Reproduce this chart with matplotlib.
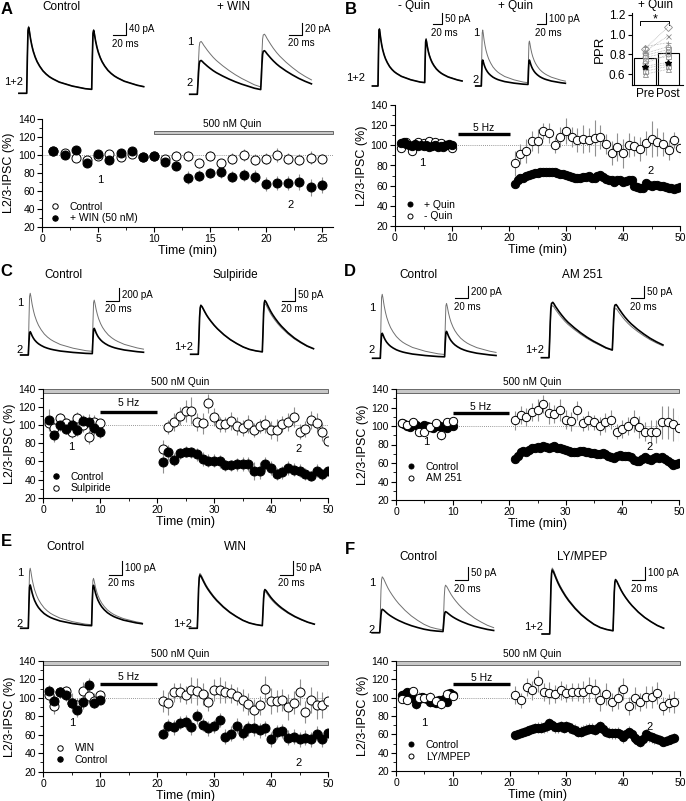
import numpy as np
import matplotlib
matplotlib.use("Agg")
import matplotlib.pyplot as plt
from matplotlib.patches import Rectangle

plt.rcParams["font.family"] = ["Liberation Sans", "DejaVu Sans"]
plt.rcParams["font.size"] = 7.5

W, H = 686, 801

# ---------------- IPSC kinetics (normalised) ----------------
shape_t = [0, 1, 2, 3, 4, 6, 8, 10, 13, 16, 20, 25, 30, 35, 40, 50, 60, 70, 80, 90, 100, 120, 140, 160, 180]
fast = [0, .55, .95, 1.0, .95, .82, .72, .64, .55, .48, .41, .34, .29, .25, .22, .17, .14, .11, .09, .07, .06, .045, .035, .027, .02]
medium = [0, .35, .75, .95, 1.0, .97, .92, .87, .80, .74, .67, .59, .52, .46, .40, .30, .22, .15, .10, .07, .05, .03, .02, .015, .01]
slow = [0, .3, .65, .9, .98, 1.0, .97, .93, .88, .83, .77, .70, .64, .59, .54, .45, .37, .30, .24, .18, .14, .09, .06, .04, .03]

# peak amplitudes (pA) of pulse 1 / pulse 2, for trace 1 and trace 2
a_ctrl_amp = [[218, 195], [214, 192]]
a_win_amp = [[86, 87], [55, 64]]
b_noq_amp = [[262, 201], [258, 195]]
b_quin_amp = [[509, 379], [236, 222]]
c_ctrl_amp = [[972, 808], [367, 398]]
c_sulp_amp = [[191, 191], [193, 203]]
d_ctrl_amp = [[1008, 806], [394, 401]]
d_am_amp = [[205, 168], [218, 182]]
e_ctrl_amp = [[420, 325], [303, 283]]
e_win_amp = [[192, 120], [186, 127]]
f_ctrl_amp = [[210, 169], [88, 75]]
f_ly_amp = [[496, 387], [481, 387]]

# ---------------- time courses ----------------
a_t = np.arange(1, 26)
a_ctrl = [104, 102, 97, 95, 99, 101, 98, 101, 98, 99, 96, 99, 99, 91, 99, 91, 96, 100, 95, 96, 100, 96, 95, 97, 96]
a_ctrl_err = [3, 3, 4, 4, 3, 4, 3, 3, 3, 3, 4, 5, 6, 5, 6, 5, 6, 7, 6, 6, 8, 6, 6, 7, 5]
a_win = [105, 100, 106, 91, 101, 94, 102, 105, 98, 99, 92, 88, 75, 77, 80, 81, 76, 78, 76, 68, 69, 69, 70, 64, 67]
a_win_err = [3, 3, 4, 4, 3, 4, 3, 3, 3, 3, 4, 5, 7, 6, 6, 7, 6, 7, 7, 8, 8, 8, 9, 9, 9]

t_open = np.concatenate([np.arange(1, 11), np.arange(21, 51)])
t_dense = np.concatenate([np.arange(1, 10.01, 0.5), np.arange(21, 50.01, 0.5)])

b_noquin = [97, 103, 94, 103, 102, 104, 103, 102, 100, 97,
            82, 91, 94, 104, 104, 114, 112, 100, 108, 114, 108, 105, 106, 105, 107,
            108, 101, 92, 98, 92, 100, 99, 96, 102, 106, 103, 101, 95, 105, 97]
b_noquin_err = [3, 3, 4, 3, 3, 3, 3, 3, 3, 3,
                12, 10, 12, 10, 12, 8, 10, 8, 10, 13, 10, 12, 14, 12, 18,
                12, 10, 12, 14, 14, 12, 10, 12, 12, 18, 14, 12, 10, 8, 10]
b_quin = [102, 103, 101, 100, 99, 101, 99, 100, 99, 100, 98, 99, 100, 98, 99, 98, 100, 101, 100,
          62, 66, 68, 68, 70, 71, 72, 73, 73, 74, 74, 74, 74, 74, 74, 73, 72, 72, 71, 70,
          69, 68, 68, 68, 69, 69, 70, 68, 68, 70, 71, 69, 67, 66, 66, 64, 66, 66, 64, 65,
          66, 66, 60, 59, 58, 58, 63, 61, 60, 61, 61, 60, 60, 59, 58, 58, 57, 58, 59]
b_quin_err = [2, 2, 3, 2, 2, 2, 3, 2, 2, 2, 3, 2, 2, 2, 3, 2, 2, 2, 3,
              4, 3, 3, 3, 3, 3, 3, 3, 3, 3, 3, 3, 3, 3, 3, 3, 3, 3, 3, 3,
              3, 3, 3, 3, 3, 3, 3, 3, 3, 3, 4, 4, 3, 3, 3, 3, 3, 3, 3, 3,
              4, 4, 3, 3, 4, 3, 3, 3, 3, 3, 3, 3, 3, 3, 3, 3, 3, 3, 3]

c_ctrl = [106, 89, 100, 96, 100, 95, 105, 104, 97, 93,
          59, 70, 62, 69, 71, 70, 68, 63, 61, 61, 60, 56, 56, 57, 57,
          57, 49, 50, 57, 53, 46, 48, 53, 51, 50, 46, 44, 50, 46, 49]
c_ctrl_err = [12, 8, 6, 6, 6, 7, 6, 8, 8, 7,
              12, 8, 7, 6, 6, 6, 7, 8, 7, 7, 7, 6, 6, 7, 8,
              8, 10, 9, 8, 8, 7, 7, 8, 7, 7, 7, 6, 7, 6, 6]
c_sulp = [103, 97, 108, 102, 92, 108, 100, 87, 104, 102,
          74, 98, 104, 110, 116, 116, 104, 102, 124, 109, 101, 101, 105, 99, 97,
          101, 95, 99, 101, 95, 95, 101, 104, 109, 93, 96, 106, 103, 93, 83]
c_sulp_err = [6, 6, 5, 6, 6, 7, 7, 8, 7, 5,
              10, 8, 10, 10, 12, 15, 10, 12, 10, 10, 8, 8, 10, 10, 9,
              10, 8, 8, 10, 10, 12, 9, 10, 11, 8, 9, 10, 11, 10, 8]

d_am = [103, 101, 104, 94, 93, 99, 103, 90, 104, 105,
        106, 112, 110, 115, 117, 124, 114, 113, 117, 107, 105, 117, 103, 106, 104,
        100, 104, 107, 94, 97, 100, 105, 99, 94, 94, 94, 104, 104, 102, 98]
d_am_err = [3, 3, 3, 4, 4, 4, 4, 5, 4, 4,
            10, 10, 10, 10, 12, 10, 12, 10, 12, 10, 10, 10, 8, 10, 8,
            10, 10, 10, 8, 10, 10, 12, 12, 10, 12, 12, 18, 18, 18, 14]
d_ctrl = [103, 102, 100, 99, 103, 101, 99, 98, 101, 100, 99, 98, 100, 101, 99, 100, 98, 101, 100,
          64, 68, 72, 73, 72, 74, 76, 76, 77, 76, 78, 77, 76, 77, 78, 76, 76, 75, 74, 73,
          72, 72, 72, 73, 73, 72, 72, 71, 71, 70, 70, 71, 70, 68, 67, 65, 68, 69, 68, 68,
          68, 67, 63, 62, 62, 64, 66, 64, 63, 65, 66, 65, 66, 64, 62, 60, 58, 59, 60]
d_ctrl_err = [3, 3, 3, 2, 3, 3, 2, 3, 3, 2, 3, 3, 2, 3, 3, 2, 3, 3, 3,
              4, 4, 4, 3, 3, 3, 3, 3, 3, 3, 3, 3, 3, 3, 3, 3, 3, 3, 3, 3,
              3, 3, 3, 3, 3, 3, 3, 3, 3, 3, 3, 3, 3, 3, 3, 3, 3, 3, 3, 3,
              4, 4, 4, 4, 4, 4, 4, 4, 4, 4, 4, 4, 4, 4, 4, 4, 4, 4, 4]

e_win = [103, 91, 106, 107, 95, 92, 107, 102, 97, 103,
         97, 94, 106, 106, 103, 109, 107, 104, 96, 109, 109, 106, 105, 102, 98,
         93, 87, 92, 110, 97, 97, 98, 90, 95, 106, 85, 98, 92, 92, 97]
e_win_err = [8, 8, 6, 6, 10, 8, 10, 8, 8, 6,
             12, 12, 10, 10, 10, 14, 15, 12, 10, 12, 14, 12, 10, 10, 12,
             12, 12, 10, 14, 14, 12, 12, 14, 12, 14, 12, 14, 15, 14, 12]
e_ctrl = [108, 97, 106, 103, 94, 87, 96, 114, 95, 98,
          61, 70, 68, 73, 74, 68, 80, 71, 67, 69, 76, 58, 61, 70, 62,
          67, 67, 65, 67, 55, 63, 64, 57, 58, 55, 57, 55, 61, 55, 62]
e_ctrl_err = [6, 6, 5, 6, 8, 8, 8, 8, 6, 5,
              6, 7, 8, 7, 8, 8, 8, 7, 8, 7, 8, 8, 8, 8, 8,
              8, 8, 8, 8, 8, 8, 8, 8, 8, 8, 8, 8, 8, 8, 8]

f_t_open = np.concatenate([np.arange(1, 11), np.arange(21, 50)])
f_t_dense = np.concatenate([np.arange(1, 10.01, 0.5), np.arange(21, 49.01, 0.5)])
f_ly = [99, 98, 107, 100, 100, 101, 96, 93, 104, 102,
        103, 97, 112, 108, 118, 106, 105, 104, 108, 105, 106, 106, 106, 109, 108,
        97, 104, 95, 100, 109, 91, 100, 95, 101, 101, 105, 91, 94, 95]
f_ly_err = [5, 5, 5, 6, 5, 5, 6, 5, 5, 5,
            10, 8, 10, 10, 12, 10, 12, 10, 10, 10, 10, 10, 12, 14, 12,
            12, 12, 10, 12, 12, 10, 12, 10, 12, 12, 12, 10, 10, 12]
f_ctrl = [103, 104, 106, 105, 100, 93, 99, 101, 100, 99, 95, 95, 94, 97, 96, 99, 95, 105, 103,
          59, 60, 62, 63, 64, 65, 66, 67, 67, 67, 68, 69, 72, 70, 68, 68, 69, 67, 69, 68,
          66, 65, 63, 63, 64, 65, 66, 66, 65, 67, 69, 66, 63, 62, 61, 61, 62, 60, 57, 60,
          63, 60, 56, 54, 52, 55, 60, 58, 57, 56, 55, 54, 52, 53, 54, 55, 56]
f_ctrl_err = [4, 4, 5, 4, 4, 5, 4, 4, 4, 4, 5, 4, 4, 4, 4, 5, 4, 4, 4,
              5, 5, 5, 5, 5, 5, 5, 5, 6, 6, 6, 6, 6, 6, 6, 6, 6, 6, 6, 6,
              6, 6, 6, 6, 6, 6, 6, 6, 6, 6, 6, 6, 6, 6, 6, 6, 6, 6, 6, 6,
              6, 6, 6, 6, 6, 6, 6, 6, 6, 6, 5, 5, 5, 5, 5, 5, 5]

# paired-pulse ratio (B inset)
ppr_groups = ["Pre", "Post"]
ppr_mean = [0.76, 0.81]
ppr_pre = [0.88, 0.86, 0.83, 0.81, 0.79, 0.77, 0.74, 0.71, 0.68, 0.66, 0.63, 0.60]
ppr_post = [0.92, 1.08, 0.99, 0.88, 0.85, 0.82, 0.78, 0.80, 0.72, 0.70, 0.68, 0.65]
ppr_marks = ["+", "D", "x", "o", "s", "o", "s", "o", "^", "o", "s", "^"]
ppr_black = [0.67, 0.71]

fig = plt.figure(figsize=(W / 100, H / 100), dpi=100)


def px_axes(left, top, right, bottom):
    return fig.add_axes([left / W, 1 - bottom / H, (right - left) / W, (bottom - top) / H])


def ftext(x, y, s, **kw):
    kw.setdefault("ha", "center")
    kw.setdefault("va", "center")
    fig.text(x / W, 1 - y / H, s, **kw)


def ipsc(a1, a2, kin):
    tt = np.array(shape_t, float)
    t = np.concatenate([[-12], tt[tt < 100], 100 + tt[tt <= 80]])
    y = a1 * np.interp(t, tt, kin, left=0) + a2 * np.interp(t - 100, tt, kin, left=0)
    return t, y


def trace_panel(x0, y0, ms_px, pa_px, amps, kins, bar, bar_pa):
    ax = px_axes(x0 - 22, y0 - 80, x0 + 125, y0 + 8)
    ax.set_xlim(-22 / ms_px, 125 / ms_px)
    ax.set_ylim(-8 / pa_px, 80 / pa_px)
    ax.axis("off")
    styles = [dict(color="#707070", lw=0.7), dict(color="black", lw=1.2)]
    for (a1, a2), k, st in zip(amps, kins, styles):
        t, y = ipsc(a1, a2, k)
        ax.plot(t, y, clip_on=False, **st)
    bx = (bar[0] - x0) / ms_px
    by = (y0 - bar[1]) / pa_px
    ax.plot([bx - 20, bx, bx], [by, by, by + bar_pa], color="black", lw=0.8, clip_on=False)
    ax.text(bx + 3 / ms_px, by + bar_pa / 2, f"{bar_pa} pA", ha="left", va="center", fontsize=7)
    ax.text(bx - 20 - 1.5 / ms_px, by - 8.5 / pa_px, "20 ms", ha="left", va="center", fontsize=7)


def course_axes(box, xmax, xstep):
    left, top, right, bottom = box
    ax = px_axes(left, top, right, bottom)
    ax.set_xlim(0, xmax)
    ax.set_ylim(20, 140)
    ax.spines[["top", "right"]].set_visible(False)
    ax.spines[["left", "bottom"]].set_linewidth(0.8)
    ax.set_xticks(np.arange(0, xmax + 0.1, xstep))
    ax.set_xticks(np.arange(xstep / 2, xmax, xstep), minor=True)
    ax.set_yticks(np.arange(20, 141, 20))
    ax.set_yticks(np.arange(30, 140, 20), minor=True)
    ax.tick_params(direction="out", length=3.5, width=0.8, labelsize=7.5, pad=1.5)
    ax.tick_params(which="minor", length=2, width=0.6)
    ax.axhline(100, color="#777777", ls=(0, (1, 1.5)), lw=0.6, zorder=0)
    ax.set_xlabel("Time (min)", fontsize=9, labelpad=1)
    ax.set_ylabel("L2/3-IPSC (%)", fontsize=9, labelpad=2)
    return ax


def series(ax, t, v, e, filled, ms, z):
    ax.errorbar(t, v, yerr=e, fmt="none", ecolor="#909090", elinewidth=0.8, capsize=0, zorder=1)
    h, = ax.plot(t, v, "o", ls="none", ms=ms, mfc="black" if filled else "white",
                 mec="black", mew=0.7, zorder=z)
    return h


def legend(ax, box, handles, labels, mx, rows):
    left, top, right, bottom = box
    ax.legend(handles, labels, loc="center left",
              bbox_to_anchor=((mx - 5.2 - left) / (right - left),
                              1 - ((rows[0] + rows[1]) / 2 - top) / (bottom - top)),
              frameon=False, borderpad=0, borderaxespad=0, handlelength=1.0,
              handletextpad=0.9, labelspacing=0.15, markerscale=0.6, fontsize=7.5)


def quin_bar(ax, span, y0, y1):
    ax.add_patch(Rectangle((span[0], y0), span[1] - span[0], y1 - y0, fc="#c8c8c8",
                           ec="#555555", lw=0.6, clip_on=False, zorder=2))
    ax.text((span[0] + span[1]) / 2 - 1, y1 + 1.5, "500 nM Quin", ha="center", va="bottom",
            fontsize=7.3, clip_on=False)


def stim_bar(ax, span, y, ty):
    ax.plot(span, [y, y], color="black", lw=2.4, solid_capstyle="butt", clip_on=False)
    ax.text((span[0] + span[1]) / 2, ty, "5 Hz", ha="center", va="center", fontsize=7.5)


# ---------------- panel letters & titles ----------------
for letter, (x, y) in {"A": (7, 9), "B": (351, 10), "C": (6, 271), "D": (350, 271),
                       "E": (6, 541), "F": (350, 549)}.items():
    ftext(x, y, letter, fontsize=12, fontweight="bold")

for s, x, y in [("Control", 61, 7), ("+ WIN", 234, 7), ("- Quin", 414, 6), ("+ Quin", 516, 6),
                ("+ Quin", 655, 5), ("Control", 63, 275), ("Sulpiride", 235, 275),
                ("Control", 418, 275), ("AM 251", 582, 275), ("Control", 65, 547),
                ("WIN", 235, 547), ("Control", 418, 557), ("LY/MPEP", 582, 557)]:
    ftext(x, y, s, fontsize=8.5)

# ---------------- traces ----------------
trace_panel(26.7, 93.3, 0.65, 12.3 / 40, a_ctrl_amp, [fast, fast], (126, 35), 40)
trace_panel(197.3, 94.3, 0.634, 12.3 / 20, a_win_amp, [slow, slow], (301.7, 35), 20)
trace_panel(378, 86, 0.467, 11 / 50, b_noq_amp, [fast, fast], (442.3, 24.3), 50)
trace_panel(481.3, 86, 0.467, 11 / 100, b_quin_amp, [fast, fast], (546.3, 24.3), 100)
trace_panel(28.3, 355, 0.64, 12.7 / 200, c_ctrl_amp, [fast, fast], (119, 301), 200)
trace_panel(198.3, 354.3, 0.64, 12.7 / 50, c_sulp_amp, [medium, medium], (295, 301), 50)
trace_panel(380.3, 358.3, 0.643, 12.7 / 200, d_ctrl_amp, [fast, fast], (468, 298.3), 200)
trace_panel(549, 357.7, 0.633, 12.7 / 50, d_am_amp, [slow, slow], (644, 298.3), 50)
trace_panel(28.3, 628.3, 0.633, 14.3 / 100, e_ctrl_amp, [fast, fast], (121.7, 575), 100)
trace_panel(197.3, 628.3, 0.65, 14.3 / 50, e_win_amp, [medium, medium], (292.7, 575), 50)
trace_panel(379.7, 632.7, 0.633, 13.3 / 50, f_ctrl_amp, [medium, medium], (468, 580), 50)
trace_panel(549.7, 634, 0.633, 13.3 / 100, f_ly_amp, [medium, medium], (644.7, 580), 100)

for s, x, y in [("1+2", 14, 82), ("1", 190, 42), ("2", 190, 83), ("1+2", 356, 78),
                ("1", 476, 33), ("2", 476, 80), ("1", 20, 303), ("2", 20, 350),
                ("1+2", 184, 347), ("1", 372, 308), ("2", 372, 350), ("1+2", 535, 350),
                ("1", 20, 573), ("2", 20, 624), ("1+2", 183, 624), ("1", 372, 583),
                ("2", 372, 630), ("1+2", 534, 627)]:
    ftext(x, y, s, fontsize=8)

# ---------------- A ----------------
boxA = (42.3, 119, 333, 227)
ax = course_axes(boxA, 26, 5)
ho = series(ax, a_t, a_ctrl, a_ctrl_err, False, 6.5, 3)
hf = series(ax, a_t, a_win, a_win_err, True, 6.5, 4)
quin_bar(ax, [10, 26], 123, 127)
legend(ax, boxA, [ho, hf], ["Control", "+ WIN (50 nM)"], 55, (206.7, 218.3))
ftext(100, 180, "1", fontsize=8)
ftext(291, 205, "2", fontsize=8)

# ---------------- B ----------------
boxB = (395, 105, 680, 226)
ax = course_axes(boxB, 50, 10)
ho = series(ax, t_open, b_noquin, b_noquin_err, False, 6, 3)
hf = series(ax, t_dense, b_quin, b_quin_err, True, 6, 4)
stim_bar(ax, [11, 20.2], 111.5, 117.5)
legend(ax, boxB, [hf, ho], ["+ Quin", "- Quin"], 409.7, (204.3, 216.7))
ftext(422, 163, "1", fontsize=8)
ftext(651, 171, "2", fontsize=8)

# B inset: paired-pulse ratio
ax = px_axes(631.7, 13, 683, 85)
x = np.arange(len(ppr_groups))
ax.bar(x, ppr_mean, width=0.92, bottom=0, fc="white", ec="black", lw=0.8, zorder=1)
for p0, p1, m in zip(ppr_pre, ppr_post, ppr_marks):
    ax.plot(x, [p0, p1], ls=(0, (1, 1.2)), color="#a0a0a0", lw=0.5, zorder=2)
    ax.plot(x, [p0, p1], ls="none", marker=m, ms=3.6, mfc="none", mec="#8c8c8c", mew=0.6, zorder=3)
ax.plot(x, ppr_black, ls="none", marker="*", ms=4, color="black", zorder=4)
ax.set_xlim(-0.57, 1.63)
ax.set_ylim(0.49, 1.22)
ax.spines[["top", "right"]].set_visible(False)
ax.spines[["left", "bottom"]].set_linewidth(0.8)
ax.set_yticks([0.6, 0.8, 1.0, 1.2])
ax.set_xticks(x)
ax.set_xticklabels(ppr_groups)
ax.tick_params(direction="out", length=3, width=0.8, labelsize=8.5, pad=1.5)
ax.tick_params(axis="x", length=0, pad=2)
ax.set_ylabel("PPR", fontsize=9.5, labelpad=2)
ax.plot([-0.2, -0.2, 1.05, 1.05], [1.10, 1.135, 1.135, 1.10], color="black", lw=0.7, clip_on=False)
ax.text(0.42, 1.15, "*", ha="center", va="center", fontsize=9)

# ---------------- C ----------------
boxC = (43, 389, 328, 497.7)
ax = course_axes(boxC, 50, 10)
ho = series(ax, t_open, c_sulp, c_sulp_err, False, 6.5, 3)
hf = series(ax, t_open, c_ctrl, c_ctrl_err, True, 6.5, 4)
quin_bar(ax, [0, 50], 135.5, 140.5)
stim_bar(ax, [10, 20], 115, 124)
legend(ax, boxC, [hf, ho], ["Control", "Sulpiride"], 56, (476.7, 488.3))
ftext(71, 447, "1", fontsize=8)
ftext(299, 449, "2", fontsize=8)

# ---------------- D ----------------
boxD = (396, 389, 679, 500)
ax = course_axes(boxD, 50, 10)
ho = series(ax, t_open, d_am, d_am_err, False, 6, 3)
hf = series(ax, t_dense, d_ctrl, d_ctrl_err, True, 6, 2.5)
quin_bar(ax, [0, 50], 135.5, 140.5)
stim_bar(ax, [10, 20], 114.4, 121)
legend(ax, boxD, [hf, ho], ["Control", "AM 251"], 411.3, (466.7, 478.3))
ftext(426, 442, "1", fontsize=8)
ftext(650, 447, "2", fontsize=8)

# ---------------- E ----------------
boxE = (43, 661, 328, 771.7)
ax = course_axes(boxE, 50, 10)
ho = series(ax, t_open, e_win, e_win_err, False, 6.5, 3)
hf = series(ax, t_open, e_ctrl, e_ctrl_err, True, 6.5, 4)
quin_bar(ax, [0, 50], 135.5, 140.5)
stim_bar(ax, [10, 20], 115.5, 123)
legend(ax, boxE, [ho, hf], ["WIN", "Control"], 60, (748.3, 760))
ftext(72, 723, "1", fontsize=8)
ftext(299, 763, "2", fontsize=8)

# ---------------- F ----------------
boxF = (396, 661, 680, 771)
ax = course_axes(boxF, 50, 10)
ho = series(ax, f_t_open, f_ly, f_ly_err, False, 6, 3)
hf = series(ax, f_t_dense, f_ctrl, f_ctrl_err, True, 6, 2.5)
quin_bar(ax, [0, 50], 135.5, 140.5)
stim_bar(ax, [10, 20], 114.6, 121)
legend(ax, boxF, [hf, ho], ["Control", "LY/MPEP"], 411.3, (745, 756.7))
ftext(424, 723, "1", fontsize=8)
ftext(650, 727, "2", fontsize=8)

fig.savefig("out.png", dpi=100)
